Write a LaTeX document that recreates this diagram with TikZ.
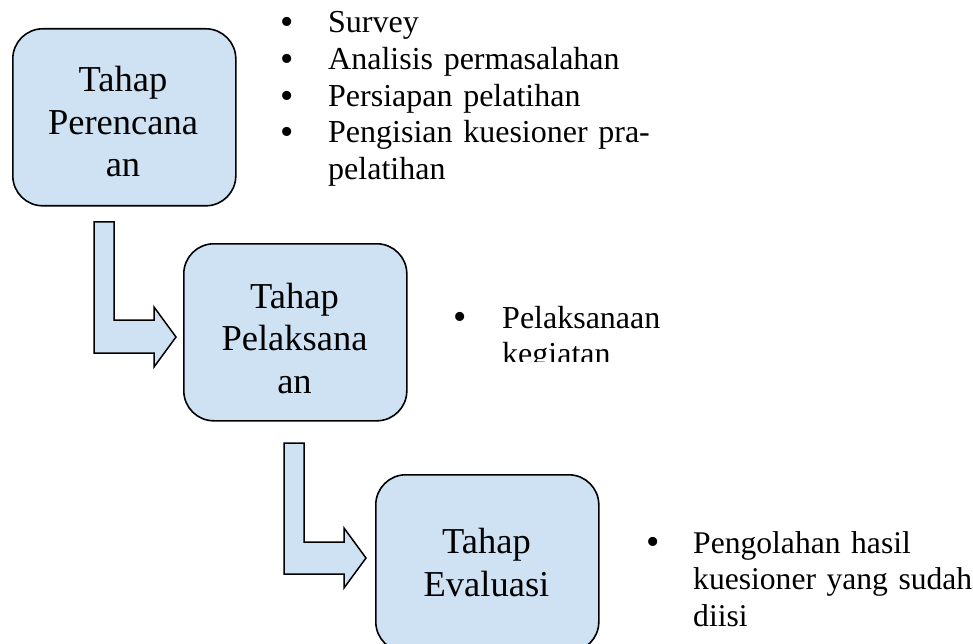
\documentclass[tikz,border=0pt]{standalone}
\usepackage{fontspec}
\setmainfont{Liberation Serif}
\definecolor{stagefill}{HTML}{CFE2F3}
\begin{document}
\begin{tikzpicture}[x=1pt,y=-1pt,
  stage/.style={draw=black, line width=1.6pt, fill=stagefill, rounded corners=30pt,
    minimum width=223pt, minimum height=177pt, anchor=north west, inner sep=0pt},
  stagetext/.style={font=\fontsize{36.5}{42.5}\selectfont, text width=224pt,
    align=center, anchor=base, inner sep=0pt},
  itemtext/.style={font=\fontsize{32}{36.7}\selectfont, text width=400pt,
    align=left, anchor=base west, inner sep=0pt},
  bul/.style={font=\fontsize{38}{38}\selectfont, anchor=base, inner sep=0pt, yshift=-1.5pt},
  bentarrow/.style={draw=black, line width=1.5pt, fill=stagefill, line join=miter}]
\useasboundingbox (0,0) rectangle (973,644);

% bent arrows
\draw[bentarrow] (94,222) -- (114,222) -- (114,320) -- (154,320) -- (154,307)
  -- (176,337) -- (154,367) -- (154,353) -- (94,353) -- cycle;
\begin{scope}[shift={(190,221)}]
\draw[bentarrow] (94,222) -- (114,222) -- (114,321) -- (154,321) -- (154,307)
  -- (176,337) -- (154,367) -- (154,353) -- (94,353) -- cycle;
\end{scope}

% stage boxes
\node[stage] (b1) at (12,28) {};
\node[stage] (b2) at (183,243) {};
\node[stage] (b3) at (375,474) {};

\node[stagetext] (t1) at (123,92) {Tahap\\Perencana\\an};
\node[stagetext] (t2) at (294.5,308) {Tahap\\Pelaksana\\an};
\node[stagetext] (t3) at (486.5,553) {Tahap\\[0.5pt]Evaluasi};

% first list
\node[bul] (p1) at (287,33) {•};
\node[itemtext] (i1) at (328,33) {Survey};
\node[bul] (p2) at (287,70) {•};
\node[itemtext] (i2) at (328,70) {Analisis permasalahan};
\node[bul] (p3) at (287,107) {•};
\node[itemtext] (i3) at (328,107) {Persiapan pelatihan};
\node[bul] (p4) at (287,143) {•};
\node[itemtext] (i4) at (328,143) {Pengisian kuesioner pra-\\pelatihan};

% second list (clipped)
\node[bul] (q1) at (460,328) {•};
\begin{scope}
\clip (440,280) rectangle (973,361);
\node[itemtext] (j1) at (502,328) {Pelaksanaan\\kegiatan};
\end{scope}

% third list
\node[bul] (r1) at (653,553) {•};
\node[itemtext, font=\fontsize{31.6}{36.5}\selectfont] (k1) at (693,553)
  {Pengolahan hasil\\kuesioner yang sudah\\diisi};
\end{tikzpicture}
\end{document}
